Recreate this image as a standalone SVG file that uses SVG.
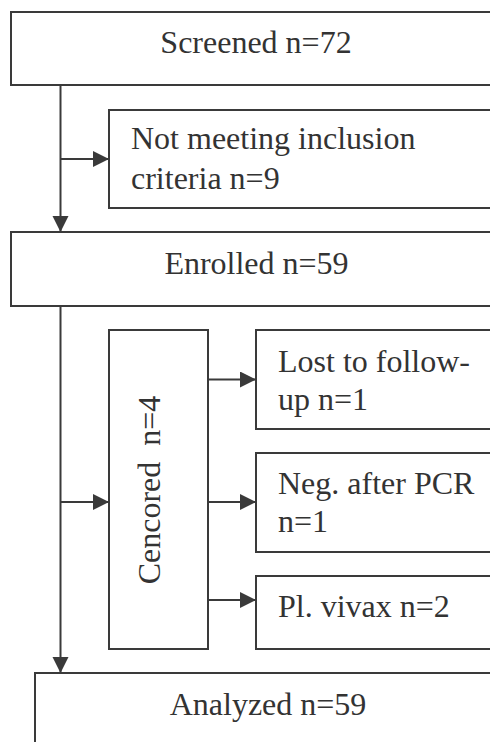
<svg xmlns="http://www.w3.org/2000/svg" width="490" height="742" viewBox="0 0 490 742">
  <style>
    .box { fill: #ffffff; stroke: #3a3a3a; stroke-width: 2; }
    .lbl { font-family: "Liberation Serif", "Times New Roman", serif; font-size: 32px; fill: #333333; }
    .mid { text-anchor: middle; }
    .conn { stroke: #3a3a3a; stroke-width: 2; fill: none; }
  </style>
  <defs>
    <marker id="arr" markerUnits="userSpaceOnUse" markerWidth="17" markerHeight="17" refX="16" refY="8" orient="auto">
      <path d="M0,0 L16,8 L0,16 Z" fill="#3a3a3a"/>
    </marker>
  </defs>
  <rect width="490" height="742" fill="#ffffff"/>

  <g id="connectors">
    <line class="conn" x1="60.5" y1="85" x2="60.5" y2="232" marker-end="url(#arr)"/>
    <line class="conn" x1="60.5" y1="159" x2="109" y2="159" marker-end="url(#arr)"/>
    <line class="conn" x1="60.5" y1="306" x2="60.5" y2="673" marker-end="url(#arr)"/>
    <line class="conn" x1="60.5" y1="502" x2="109" y2="502" marker-end="url(#arr)"/>
    <line class="conn" x1="208" y1="379.5" x2="256" y2="379.5" marker-end="url(#arr)"/>
    <line class="conn" x1="208" y1="502" x2="256" y2="502" marker-end="url(#arr)"/>
    <line class="conn" x1="208" y1="600" x2="256" y2="600" marker-end="url(#arr)"/>
  </g>

  <g id="screened">
    <rect class="box" x="11" y="12" width="491" height="73"/>
    <text class="lbl mid" x="256" y="53">Screened n=72</text>
  </g>

  <g id="not-meeting">
    <rect class="box" x="109" y="110" width="393" height="98"/>
    <text class="lbl" x="131" y="149">Not meeting inclusion</text>
    <text class="lbl" x="131" y="189">criteria n=9</text>
  </g>

  <g id="enrolled">
    <rect class="box" x="11" y="232" width="491" height="74"/>
    <text class="lbl mid" x="256.5" y="274">Enrolled n=59</text>
  </g>

  <g id="cencored">
    <rect class="box" x="109" y="330" width="99" height="319"/>
    <text class="lbl mid" x="0" y="0" transform="translate(160,490) rotate(-90)" xml:space="preserve" style="white-space: pre">Cencored  n=4</text>
  </g>

  <g id="lost">
    <rect class="box" x="256" y="330" width="246" height="99"/>
    <text class="lbl" x="278" y="372">Lost to follow-</text>
    <text class="lbl" x="278" y="410">up n=1</text>
  </g>

  <g id="neg-pcr">
    <rect class="box" x="256" y="453" width="246" height="99"/>
    <text class="lbl" x="278" y="494">Neg. after PCR</text>
    <text class="lbl" x="278" y="532">n=1</text>
  </g>

  <g id="vivax">
    <rect class="box" x="256" y="576" width="246" height="73"/>
    <text class="lbl" x="278" y="617">Pl. vivax n=2</text>
  </g>

  <g id="analyzed">
    <rect class="box" x="35" y="673" width="467" height="80"/>
    <text class="lbl mid" x="268" y="715">Analyzed n=59</text>
  </g>
</svg>
